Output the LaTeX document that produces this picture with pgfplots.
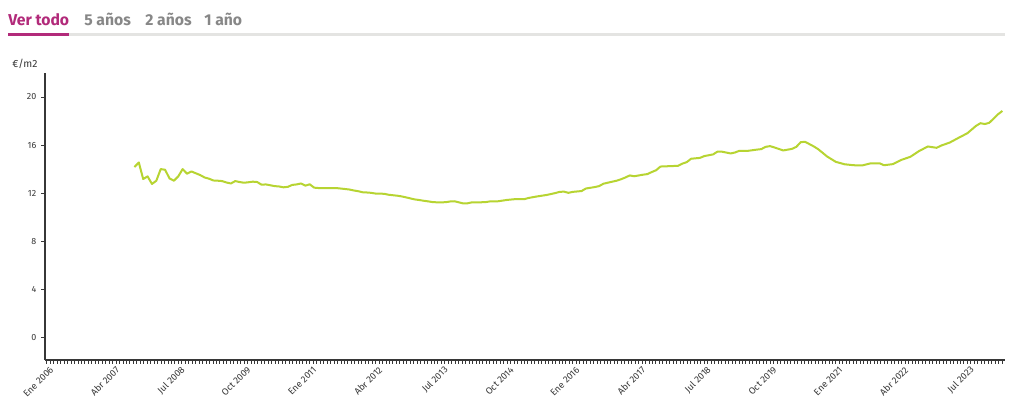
\documentclass[border=0pt]{standalone}
\usepackage{fontspec}
\setmainfont{Fira Sans}
\usepackage{pgfplots}
\pgfplotsset{compat=1.18}
\usepackage{pgfplotstable}
\definecolor{lineg}{RGB}{183,212,50}
\definecolor{mag}{RGB}{178,42,122}
\definecolor{tabgray}{RGB}{135,135,135}
\definecolor{axgray}{RGB}{55,55,55}
\definecolor{ulgray}{RGB}{228,228,226}
\pgfplotstableread{
m v
20 14.17
21 14.55
22 13.17
23 13.39
24 12.76
25 13.03
26 14.00
27 13.94
28 13.22
29 13.03
30 13.39
31 14.00
32 13.61
33 13.80
34 13.65
35 13.50
36 13.30
37 13.20
38 13.05
39 13.03
40 13.00
41 12.88
42 12.80
43 13.00
44 12.92
45 12.86
46 12.90
47 12.95
48 12.92
49 12.70
50 12.72
51 12.65
52 12.58
53 12.55
54 12.48
55 12.52
56 12.68
57 12.72
58 12.80
59 12.62
60 12.73
61 12.45
62 12.42
64 12.42
66 12.42
67 12.38
68 12.34
69 12.30
70 12.22
71 12.16
72 12.07
73 12.05
74 12.02
75 11.96
76 11.95
77 11.94
78 11.86
79 11.82
80 11.78
81 11.72
82 11.64
83 11.55
84 11.47
85 11.42
86 11.36
87 11.31
88 11.25
89 11.23
90 11.23
91 11.24
92 11.30
93 11.32
94 11.23
95 11.14
96 11.15
97 11.23
98 11.23
100 11.24
101 11.30
103 11.32
105 11.43
107 11.50
109 11.50
110 11.60
112 11.73
114 11.84
116 12.00
117 12.10
118 12.12
119 12.02
120 12.10
122 12.17
123 12.38
125 12.50
126 12.58
127 12.78
129 12.95
130 13.03
131 13.15
132 13.30
133 13.47
134 13.40
136 13.53
137 13.58
138 13.75
139 13.90
140 14.21
142 14.24
144 14.27
145 14.45
146 14.58
147 14.86
149 14.93
150 15.08
152 15.22
153 15.45
154 15.45
156 15.30
157 15.38
158 15.52
160 15.52
162 15.62
163 15.66
164 15.85
165 15.91
166 15.80
168 15.55
170 15.68
171 15.85
172 16.24
173 16.27
175 15.88
176 15.65
178 15.05
180 14.60
182 14.40
184 14.32
186 14.30
188 14.48
190 14.48
191 14.32
193 14.41
195 14.77
197 15.02
199 15.50
201 15.88
203 15.77
204 15.95
206 16.21
208 16.60
210 16.98
212 17.60
213 17.82
214 17.75
215 17.85
216 18.20
217 18.56
218 18.84
}\datatable
\begin{document}
\begin{tikzpicture}
\useasboundingbox (0pt,0pt) rectangle (768pt,312pt);
\fill[white] (0pt,0pt) rectangle (768pt,312pt);
% tabs
\draw[ulgray, line width=2.25pt] (6pt,285.75pt) -- (753.75pt,285.75pt);
\draw[mag, line width=2.25pt] (6pt,285.75pt) -- (51.75pt,285.75pt);
\node[anchor=base west, inner sep=0pt, text=mag, font=\fontsize{11.8}{13}\selectfont\bfseries] at (6pt,292.5pt) {Ver todo};
\node[anchor=base west, inner sep=0pt, text=tabgray, font=\fontsize{11.8}{13}\selectfont\bfseries] at (63pt,292.5pt) {5 años};
\node[anchor=base west, inner sep=0pt, text=tabgray, font=\fontsize{11.8}{13}\selectfont\bfseries] at (108.75pt,292.5pt) {2 años};
\node[anchor=base west, inner sep=0pt, text=tabgray, font=\fontsize{11.8}{13}\selectfont\bfseries] at (153pt,292.5pt) {1 año};
\node[anchor=base west, inner sep=0pt, text=axgray, font=\fontsize{7.8}{9}\selectfont] at (9pt,261pt) {€/m2};
\begin{axis}[
  at={(33.75pt,42pt)}, anchor=south west,
  scale only axis, width=720pt, height=215.25pt,
  xmin=-0.4, xmax=218.6, ymin=-1.9, ymax=22,
  axis lines*=left,
  axis line style={-, axgray, line width=0.8pt},
  tick align=outside,
  tick style={axgray, line width=0.55pt},
  major tick length=3pt, minor tick length=3pt,
  ytick={0,4,...,20},
  xtick={0,15,...,210},
  xticklabels={Ene 2006, Abr 2007, Jul 2008, Oct 2009, Ene 2011, Abr 2012, Jul 2013, Oct 2014, Ene 2016, Abr 2017, Jul 2018, Oct 2019, Ene 2021, Abr 2022, Jul 2023},
  minor xtick={0,0.78947,...,218.5},
  /pgf/number format/assume math mode=true,
  yticklabel style={font=\fontsize{6.7}{7}\selectfont, text=axgray},
  xticklabel style={font=\fontsize{7}{8}\selectfont, text=axgray, rotate=45, anchor=east, inner sep=1pt, xshift=1.5pt, yshift=-5pt},
  clip=false,
]
\addplot[lineg, line width=1.5pt, line join=round, no markers] table[x=m, y=v] {\datatable};
\end{axis}
\end{tikzpicture}
\end{document}
